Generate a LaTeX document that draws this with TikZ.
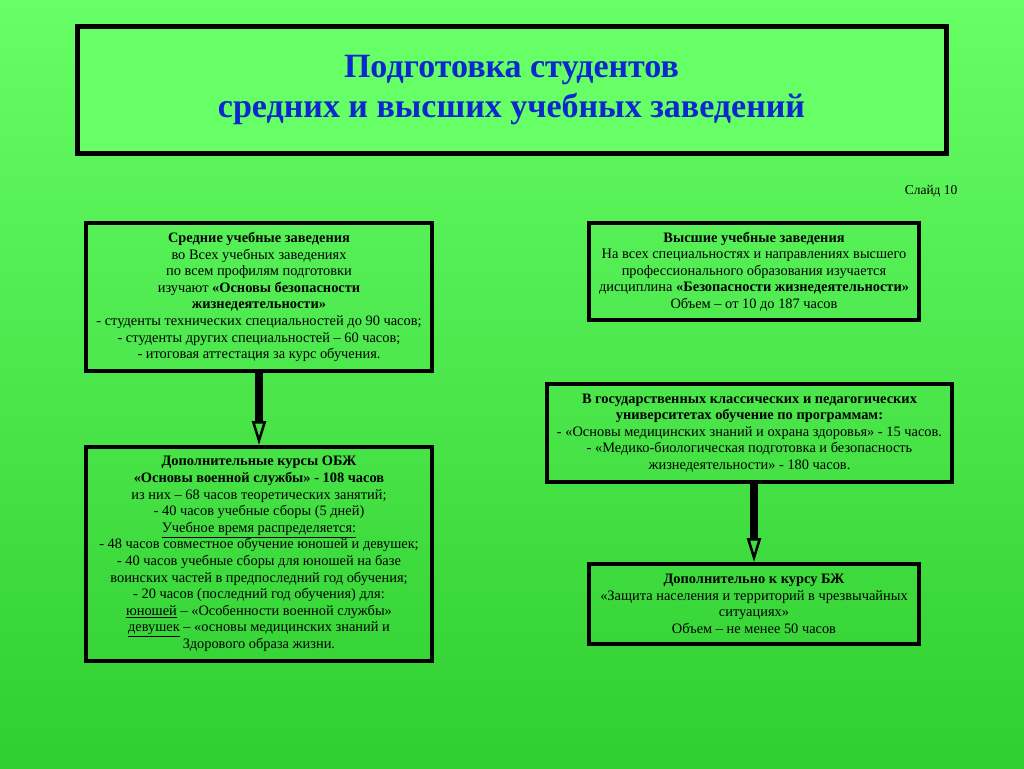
\documentclass[tikz,border=0pt]{standalone}
\usepackage{fontspec}
\setmainfont{Liberation Serif}
\usetikzlibrary{positioning,arrows.meta}
\definecolor{bgtop}{RGB}{102,255,102}
\definecolor{bgbottom}{RGB}{48,206,48}
\definecolor{titleblue}{RGB}{10,40,205}
\tikzset{
  slide/.style={x=1pt,y=-1pt,font=\fontsize{14.4}{16.6}\selectfont},
  block/.style={draw=black,line width=4pt,align=center,inner sep=4pt},
  bigarrow/.style={line width=7.5pt,-{Triangle[open,length=24pt,width=14pt,line width=2.5pt]}},
}

\begin{document}
\begin{tikzpicture}[slide]
  \useasboundingbox (0,0) rectangle (1024,768);
  \shade[top color=bgtop,bottom color=bgbottom] (0,0) rectangle (1024,768);
  % title
  \node[block,line width=5pt,fill=bgtop,minimum width=869pt,minimum height=126pt,
    font=\bfseries\fontsize{34}{40}\selectfont,text=titleblue] (title) at (511.5,90)
    {Подготовка студентов\\средних и высших учебных заведений};
  \node[anchor=east,font=\fontsize{13.5}{16}\selectfont] (slidenum) at (961,191) {Слайд 10};
  % left column
  \node[block,minimum width=346pt,minimum height=148pt] (school) at (259,297)
    {\textbf{Средние учебные заведения}\\
     во Всех учебных заведениях\\
     по всем профилям подготовки\\
     изучают \textbf{«Основы безопасности}\\
     \textbf{жизнедеятельности»}\\
     - студенты технических специальностей до 90 часов;\\
     - студенты других специальностей – 60 часов;\\
     - итоговая аттестация за курс обучения.};
  \node[block,minimum width=346pt,minimum height=214pt] (obzh) [below=72pt of school]
    {\textbf{Дополнительные курсы ОБЖ}\\
     \textbf{«Основы военной службы» - 108 часов}\\
     из них – 68 часов теоретических занятий;\\
     - 40 часов учебные сборы (5 дней)\\
     \underline{Учебное время распределяется:}\\
     - 48 часов совместное обучение юношей и девушек;\\
     - 40 часов учебные сборы для юношей на базе\\
     воинских частей в предпоследний год обучения;\\
     - 20 часов (последний год обучения) для:\\
     \underline{юношей} – «Особенности военной службы»\\
     \underline{девушек} – «основы медицинских знаний и\\
     Здорового образа жизни.};
  % right column
  \node[block,minimum width=330pt,minimum height=97pt] (univ) at (754,271.5)
    {\textbf{Высшие учебные заведения}\\
     На всех специальностях и направлениях высшего\\
     профессионального образования изучается\\
     дисциплина \textbf{«Безопасности жизнедеятельности»}\\
     Объем – от 10 до 187 часов};
  \node[block,minimum width=405pt,minimum height=98pt] (state) at (749.5,433)
    {\textbf{В государственных классических и педагогических}\\
     \textbf{университетах обучение по программам:}\\
     - «Основы медицинских знаний и охрана здоровья» - 15 часов.\\
     - «Медико-биологическая подготовка и безопасность\\
     жизнедеятельности» - 180 часов.};
  \node[block,minimum width=330pt,minimum height=80pt] (bzh) [below=78pt of state,xshift=4.5pt]
    {\textbf{Дополнительно к курсу БЖ}\\
     «Защита населения и территорий в чрезвычайных\\
     ситуациях»\\
     Объем – не менее 50 часов};
  % arrows
  \draw[bigarrow] (school) -- (obzh);
  \draw[bigarrow] (state.south -| bzh.north) -- (bzh.north);
\end{tikzpicture}
\end{document}
